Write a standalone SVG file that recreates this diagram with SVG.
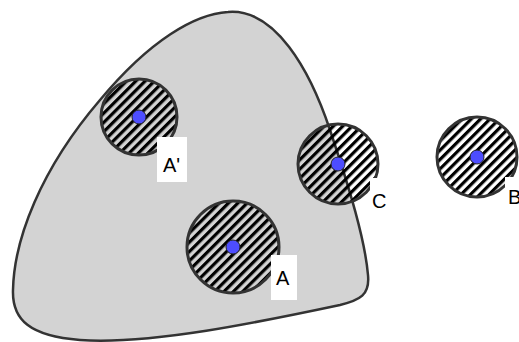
<svg xmlns="http://www.w3.org/2000/svg" width="519" height="342" viewBox="0 0 519 342">
<style>
.blob{fill:#d3d3d3;stroke:#333;stroke-width:2.5}
.disk{fill:url(#hatch);stroke:#333;stroke-width:3}
.dot{fill:#4d4dff;stroke:#222;stroke-width:1}
.lbl{fill:#fff}
.txt{font-family:"Liberation Sans",Arial,sans-serif;font-size:20px;fill:#000}
</style>
<defs>
<pattern id="hatch" patternUnits="userSpaceOnUse" width="6.6" height="6.6" patternTransform="rotate(45)">
<rect x="0" y="0" width="3.2" height="6.6" fill="#000"/>
</pattern>
</defs>
<g id="region">
<path class="blob" d="M228,12 C275,8 310,70 330,130 C350,190 365,240 368,275 C370,295 360,300 340,305 C260,322 150,345 80,340 C30,336 12,320 13,290 C14,240 40,170 100,100 C150,40 195,14 228,12 Z"/>
</g>
<g id="nodeAprime">
<circle class="disk" cx="139" cy="117" r="38"/>
<circle class="dot" cx="139" cy="117" r="7"/>
<rect class="lbl" x="157" y="137" width="30" height="45"/>
<text class="txt" x="163" y="172">A'</text>
</g>
<g id="nodeA">
<circle class="disk" cx="233" cy="247" r="46"/>
<circle class="dot" cx="233" cy="247" r="7"/>
<rect class="lbl" x="271" y="255" width="26" height="45"/>
<text class="txt" x="276" y="285">A</text>
</g>
<g id="nodeC">
<circle class="disk" cx="338" cy="164" r="40"/>
<circle class="dot" cx="338" cy="164" r="7"/>
<rect class="lbl" x="370" y="178" width="26" height="42"/>
<text class="txt" x="372" y="208">C</text>
</g>
<g id="nodeB">
<circle class="disk" cx="477" cy="157" r="40"/>
<circle class="dot" cx="477" cy="157" r="7"/>
<rect class="lbl" x="505" y="177" width="20" height="42"/>
<text class="txt" x="508" y="204">B</text>
</g>
<g id="connectors"/>
</svg>
